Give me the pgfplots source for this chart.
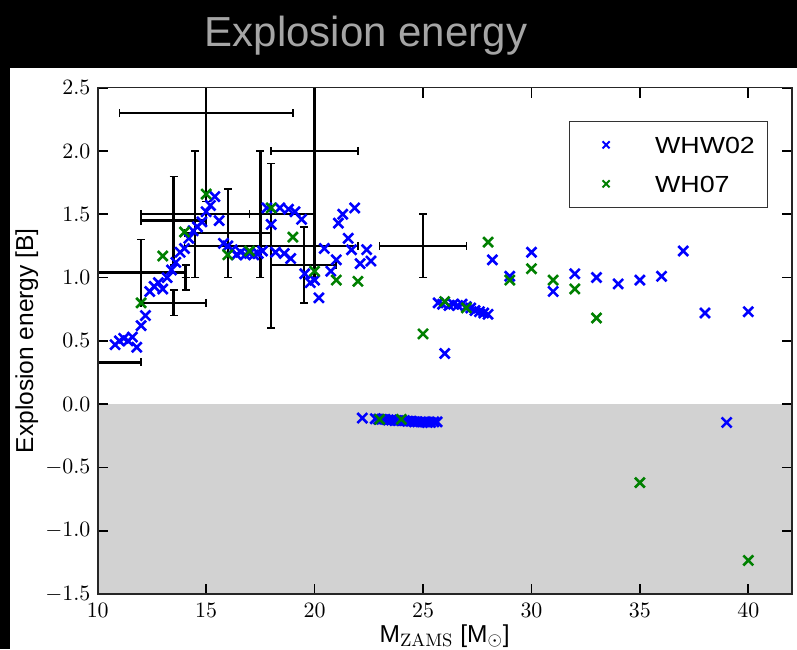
\documentclass[border=0pt]{standalone}
\usepackage[no-math]{fontspec}
\usepackage{pgfplots}
\pgfplotsset{compat=1.18}
\newfontfamily\labfont{Liberation Sans}
\newfontfamily\legfont[FakeStretch=1.15]{Liberation Sans}
\definecolor{mplblue}{rgb}{0,0,1}
\definecolor{mplgreen}{rgb}{0,0.5,0}
\definecolor{shade}{RGB}{210,210,210}
\definecolor{titlegray}{RGB}{165,165,165}

% observed explosion energies: mass, energy, mass error, energy error
\pgfplotstableread{
x     y     ex   ey
15.0  2.30  4.0  0.70
20.0  2.00  2.0  1.00
14.5  1.50  2.5  0.50
13.5  1.45  1.5  0.35
17.5  1.50  2.5  0.50
18.0  1.25  4.0  0.65
16.0  1.35  2.0  0.35
19.5  1.10  1.5  0.30
12.0  1.04  2.0  0.26
14.05 1.00  0.0  0.10
13.5  0.80  1.5  0.10
9.5   0.33  2.5  0.00
25.0  1.25  2.0  0.25
}\observed

% WHW02 progenitors
\pgfplotstableread{
x     y
10.8  0.47
11.0  0.50
11.2  0.52
11.4  0.50
11.6  0.53
11.8  0.45
12.0  0.62
12.2  0.70
12.4  0.89
12.6  0.93
12.8  0.96
13.0  0.91
13.2  1.00
13.4  1.06
13.6  1.12
13.8  1.20
14.0  1.23
14.2  1.31
14.4  1.37
14.6  1.40
14.8  1.44
15.0  1.52
15.2  1.57
15.4  1.64
15.6  1.45
15.8  1.27
16.0  1.25
16.2  1.22
16.4  1.18
16.6  1.20
16.8  1.18
17.0  1.19
17.2  1.18
17.4  1.19
17.6  1.21
17.8  1.55
18.0  1.42
18.2  1.20
18.4  1.55
18.6  1.19
18.8  1.54
18.9  1.15
19.1  1.52
19.4  1.46
19.55 1.03
19.8  0.96
20.0  0.98
20.2  0.84
20.45 1.23
20.75 1.05
21.0  1.14
21.1  1.43
21.3  1.50
21.55 1.31
21.7  1.22
21.85 1.55
22.1  1.11
22.4  1.22
22.6  1.13
22.2  -0.11
22.8  -0.115
22.95 -0.12
23.1  -0.12
23.25 -0.12
23.4  -0.125
23.55 -0.125
23.7  -0.13
23.85 -0.13
24.0  -0.13
24.15 -0.13
24.3  -0.135
24.45 -0.135
24.6  -0.14
24.75 -0.14
24.9  -0.14
25.05 -0.14
25.2  -0.145
25.35 -0.145
25.5  -0.14
25.65 -0.14
25.7  0.80
25.9  0.79
26.0  0.40
26.2  0.78
26.4  0.79
26.6  0.78
26.8  0.79
27.0  0.77
27.2  0.76
27.4  0.74
27.6  0.73
27.8  0.72
28.0  0.71
28.2  1.14
29.0  1.01
30.0  1.20
31.0  0.89
32.0  1.03
33.0  1.00
34.0  0.95
35.0  0.98
36.0  1.01
37.0  1.21
38.0  0.72
39.0  -0.145
40.0  0.73
}\whwzero

% WH07 progenitors
\pgfplotstableread{
x     y
12.0  0.80
13.0  1.17
14.0  1.36
15.0  1.66
16.0  1.18
17.0  1.21
18.0  1.55
19.0  1.32
20.0  1.05
21.0  0.98
22.0  0.97
23.0  -0.12
24.0  -0.12
25.0  0.555
26.0  0.81
27.0  0.76
28.0  1.28
29.0  0.98
30.0  1.07
31.0  0.98
32.0  0.91
33.0  0.68
35.0  -0.62
40.0  -1.235
}\whzerosev

\begin{document}
\begin{tikzpicture}
\useasboundingbox (0,0) rectangle (398.5pt,324.5pt);
\fill[black] (0,0) rectangle (398.5pt,324.5pt);
\fill[white] (5pt,0) rectangle (398.5pt,290.5pt);
\node[anchor=base, text=titlegray, font=\fontsize{21}{25}\labfont, inner sep=0pt]
  at (183pt,301pt) {Explosion energy};
\begin{axis}[
  at={(48.85pt,27.5pt)}, anchor=south west,
  scale only axis, width=347pt, height=253.15pt,
  xmin=10, xmax=42, ymin=-1.5, ymax=2.5,
  axis on top,
  axis line style={black!85, line width=0.8pt},
  tick align=inside, major tick length=5pt,
  every tick/.style={black, line width=0.9pt},
  xtick={10,15,...,40},
  ytick={-1.5,-1,...,2.5},
  ticklabel style={font=\fontsize{10.85}{13}\selectfont},
  yticklabel style={/pgf/number format/.cd, fixed, fixed zerofill, precision=1,
    /tikz/.cd, inner sep=0pt, xshift=-3.5pt},
  xticklabel style={inner sep=0pt, yshift=-4.5pt},
  xlabel={M$_{\mathrm{ZAMS}}$ [M$_\odot$]},
  ylabel={Explosion energy [B]},
  every axis y label/.style={at={(axis description cs:-0.0932,0.5)}, rotate=90, anchor=base,
    font=\fontsize{12.25}{14}\labfont},
  every axis x label/.style={at={(axis description cs:0.5,-0.0948)}, anchor=base,
    font=\fontsize{12.25}{14}\labfont},
  legend style={at={(axis cs:40.9,2.238)}, anchor=north east, draw=black!80,
    line width=0.6pt, fill=white, inner xsep=6.2pt, inner ysep=7.5pt, row sep=11.15pt,
    font=\fontsize{11.65}{14}\legfont,
    nodes={inner sep=0pt, text height=8.35pt, text depth=0pt},
    cells={anchor=west}},
  legend image code/.code={%
    \path[draw=none, fill=none] (0pt,0pt) -- (36.5pt,0pt);
    \draw[#1, only marks, mark size=2.5pt, line width=1pt]
      plot coordinates {(12pt,0pt)};},
]
% unbound region below zero energy
\addplot[fill=shade, draw=none, forget plot] coordinates {(10,-1.5) (10,0) (42,0) (42,-1.5)};
% observational estimates
\addplot[draw=none, mark=none, forget plot,
  error bars/.cd, x dir=both, x explicit, y dir=both, y explicit,
  error bar style={draw=black, line width=1.2pt},
  error mark options={draw=black, line width=0.8pt, mark size=2pt, rotate=90}]
  table[x=x, y=y, x error=ex, y error=ey] {\observed};
\addplot[only marks, mark=x, mark size=3.5pt, line width=1.3pt, color=mplblue]
  table[x=x, y=y] {\whwzero};
\addlegendentry{WHW02}
\addplot[only marks, mark=x, mark size=3.5pt, line width=1.3pt, color=mplgreen]
  table[x=x, y=y] {\whzerosev};
\addlegendentry{WH07}
\end{axis}
\end{tikzpicture}
\end{document}
